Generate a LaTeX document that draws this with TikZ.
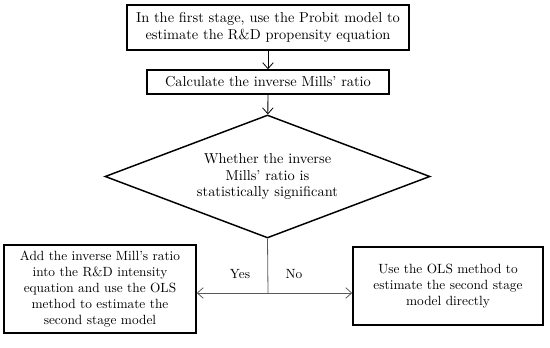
\documentclass[tikz,border=0pt]{standalone}
\usetikzlibrary{arrows.meta,shapes.geometric}
\tikzset{
  stagebox/.style={
    draw,
    rectangle,
    line width=1.1pt,
    align=center,
    inner sep=2pt
  },
  bigtext/.style={
    font=\fontsize{10.8}{12.6}\selectfont
  },
  decision/.style={
    draw,
    diamond,
    bigtext,
    line width=1.1pt,
    shape aspect=2.6,
    align=center,
    inner sep=0pt
  },
  flow/.style={
    -{Straight Barb[length=4.5pt,width=8pt]},
    line width=0.6pt
  },
  branch/.style={
    line width=0.6pt,
    draw=black!65
  }
}

\begin{document}
\begin{tikzpicture}[x=0.75pt,y=-0.75pt]
\useasboundingbox (0,0) rectangle (550,348);

\node[stagebox, bigtext, minimum width=211.5pt, minimum height=33.75pt] (probit) at (268,27.5)
  {In the first stage, use the Probit model to\\estimate the R\&D propensity equation};
\node[stagebox, bigtext, minimum width=181.5pt, minimum height=18pt] (mills) at (268,82)
  {Calculate the inverse Mills' ratio};
\node[decision, minimum width=243.75pt, minimum height=92.25pt] (check) at (267.5,176.5)
  {Whether the inverse\\Mills' ratio is\\statistically significant};
\node[stagebox, minimum width=144pt, minimum height=66pt] (addmills) at (100,289)
  {Add the inverse Mill's ratio\\into the R\&D intensity\\equation and use the OLS\\method to estimate the\\second stage model};
\node[stagebox, minimum width=142.5pt, minimum height=58.5pt] (direct) at (448,286)
  {Use the OLS method to\\estimate the second stage\\model directly};

\coordinate (split) at (268,293);

\draw[flow] (probit) -- (mills);
\draw[flow] (mills) -- (check);
\draw[branch] (check.south) -- (split);
\draw[branch, flow] (split) -- (split -| addmills.east);
\draw[branch, flow] (split) -- (split -| direct.west);

\node (yes) at (240,274) {Yes};
\node (no) at (294,274) {No};

\end{tikzpicture}
\end{document}
